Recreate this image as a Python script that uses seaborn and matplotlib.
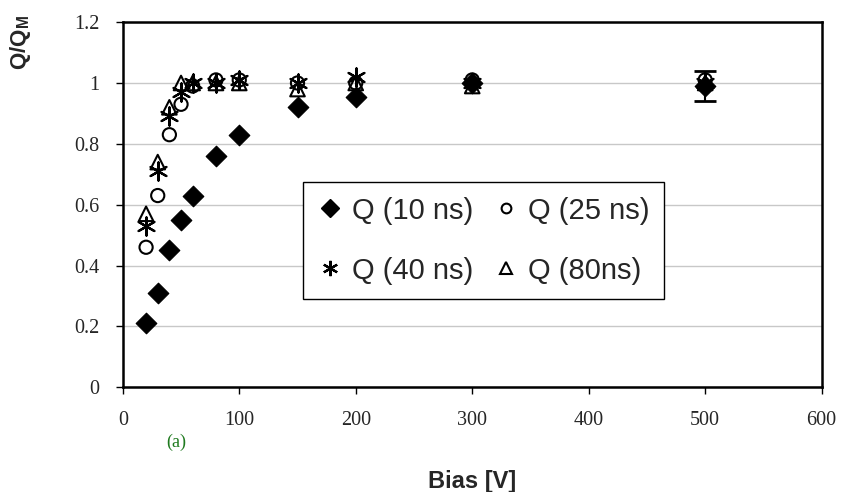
import numpy as np
import pandas as pd
import seaborn as sns
import matplotlib
matplotlib.use("Agg")
import matplotlib.pyplot as plt
from matplotlib.lines import Line2D

# data
bias = [20, 30, 40, 50, 60, 80, 100, 150, 200, 300, 500]
q10 = [0.21, 0.31, 0.45, 0.55, 0.63, 0.76, 0.83, 0.92, 0.955, 1.0, 0.99]
q25 = [0.46, 0.63, 0.83, 0.93, 0.99, 1.01, 1.01, 1.0, 1.0, 1.01, 1.01]
q40 = [0.53, 0.71, 0.89, 0.97, 1.0, 1.0, 1.01, 1.0, 1.02, 1.0, 1.0]
q80 = [0.57, 0.74, 0.92, 1.0, 1.0, 1.0, 1.0, 0.98, 1.0, 0.99, 1.0]
q10_err_500 = 0.05
labels = ["Q (10 ns)", "Q (25 ns)", "Q (40 ns)", "Q (80ns)"]
xticks = [0, 100, 200, 300, 400, 500, 600]
yticks = [0, 0.2, 0.4, 0.6, 0.8, 1.0, 1.2]

df = pd.DataFrame({"bias": bias, "q10": q10, "q25": q25, "q40": q40, "q80": q80})

sns.set_theme(style="white")
plt.rcParams["font.family"] = ["Liberation Sans", "DejaVu Sans"]
plt.rcParams["mathtext.fontset"] = "custom"
plt.rcParams["mathtext.bf"] = "Liberation Sans:bold"
plt.rcParams["mathtext.rm"] = "Liberation Sans"

fig = plt.figure(figsize=(8.41, 4.92), dpi=100)
ax = fig.add_axes([0.146, 0.213, 0.831, 0.742])

asterisk = (6, 2, 0)
styles = {
    "q10": dict(marker="D", s=110, color="black", edgecolor="black"),
    "q25": dict(marker="o", s=90, facecolor="none", edgecolor="black", linewidth=1.5),
    "q40": dict(marker=asterisk, s=170, color="black", linewidth=1.6),
    "q80": dict(marker="^", s=110, facecolor="none", edgecolor="black", linewidth=1.5),
}

# error bar on the 500 V point and small dash to the right of each diamond
ax.errorbar(df["bias"], df["q10"], xerr=[np.zeros(len(df)), np.full(len(df), 4.0)],
            fmt="none", ecolor="black", elinewidth=1.5, capsize=0, zorder=2)
ax.errorbar([bias[-1]], [q10[-1]], yerr=q10_err_500, fmt="none",
            ecolor="black", elinewidth=1.5, capsize=8, capthick=2, zorder=2)

for key in ["q10", "q25", "q40", "q80"]:
    sns.scatterplot(data=df, x="bias", y=key, ax=ax, zorder=3, legend=False, **styles[key])

ax.set_xlim(0, 600)
ax.set_ylim(0, 1.2)
ax.set_xticks(xticks)
ax.set_yticks(yticks)
ax.set_xticklabels([f"{v:g}" for v in xticks], family="Liberation Serif", fontsize=14.5)
ax.set_yticklabels([f"{v:g}" for v in yticks], family="Liberation Serif", fontsize=14.5)
ax.yaxis.grid(True, color="#c8c8c8", linewidth=1)
ax.xaxis.grid(False)
ax.tick_params(axis="both", direction="out", length=5, width=1, color="black",
               left=True, bottom=True)
ax.tick_params(axis="x", pad=12)
ax.tick_params(axis="y", pad=12)
for sp in ax.spines.values():
    sp.set_color("black")
    sp.set_linewidth(1.8)

ax.set_xlabel("Bias [V]", fontsize=17, fontweight="bold")
ax.xaxis.set_label_coords(0.5, -0.228)
ax.set_ylabel(r"Q/Q$_{\mathbf{M}}$", fontsize=16, fontweight="bold")
ax.yaxis.set_label_coords(-0.128, 0.945)

fig.text(0.21, 0.10, "(a)", color="#1f7a1f", family="Liberation Serif", fontsize=13,
         ha="center", va="center")

handles = [
    Line2D([], [], linestyle="none", marker="D", markersize=9, color="black"),
    Line2D([], [], linestyle="none", marker="o", markersize=7, markerfacecolor="none",
           markeredgecolor="black", markeredgewidth=1.5),
    Line2D([], [], linestyle="none", marker=asterisk, markersize=11, color="black",
           markeredgewidth=1.6),
    Line2D([], [], linestyle="none", marker="^", markersize=8, markerfacecolor="none",
           markeredgecolor="black", markeredgewidth=1.5),
]
order = [0, 2, 1, 3]
leg = ax.legend([handles[i] for i in order], [labels[i] for i in order], ncol=2,
                loc="upper left", bbox_to_anchor=(0.2575, 0.562), fontsize=21,
                frameon=True, fancybox=False, edgecolor="black", framealpha=1,
                handletextpad=0.3, columnspacing=0.65, borderpad=0.5,
                labelspacing=1.1, handlelength=0.9, borderaxespad=0)
leg.get_frame().set_linewidth(1.0)

fig.savefig("out.png", dpi=100)
